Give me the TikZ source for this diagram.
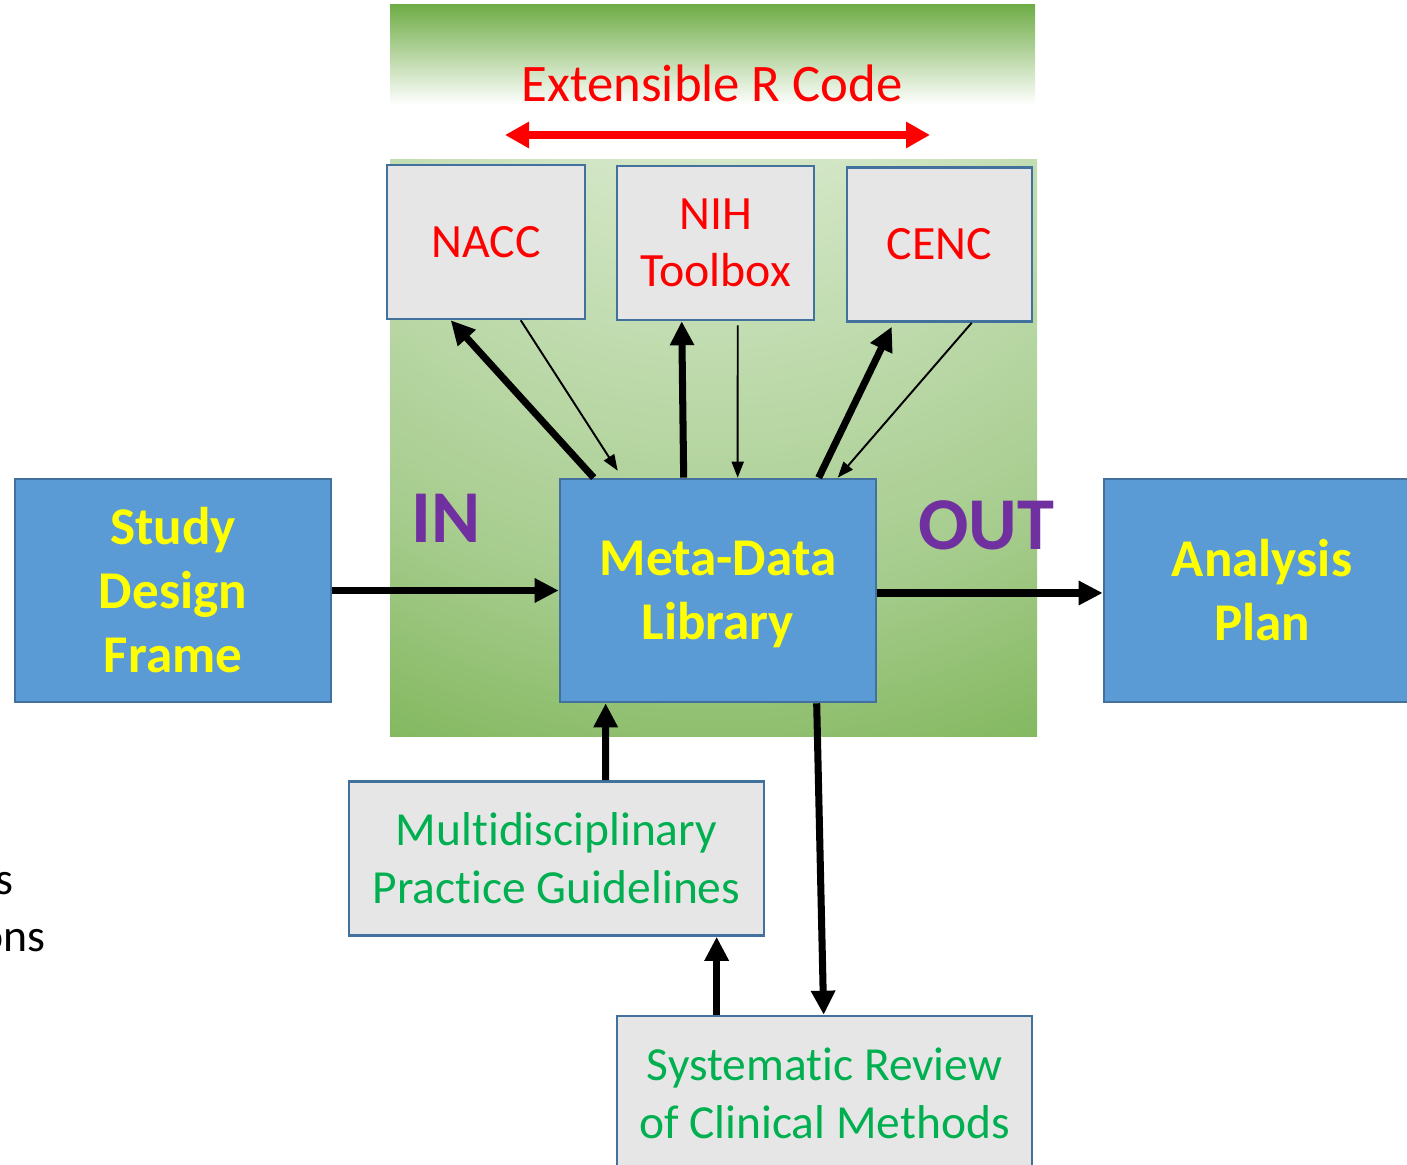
\documentclass[tikz,border=0pt]{standalone}
\usepackage{fontspec}
\setmainfont{Carlito}[Ligatures=NoCommon]
\usetikzlibrary{arrows.meta,calc}

\definecolor{bggreen}{HTML}{70AD47}
\definecolor{boxblue}{HTML}{5B9BD5}
\definecolor{boxedge}{HTML}{41719C}
\definecolor{boxgray}{HTML}{E7E6E6}
\definecolor{lblyellow}{HTML}{FFFF00}
\definecolor{lblred}{HTML}{FF0000}
\definecolor{lblgreen}{HTML}{00B050}
\definecolor{lblpurple}{HTML}{7030A0}
\definecolor{glowA}{HTML}{EFF6EB}
\definecolor{glowB}{HTML}{D0E5C3}
\definecolor{glowC}{HTML}{A6CC8D}
\definecolor{glowD}{HTML}{8ABC68}
\definecolor{glowE}{HTML}{6EAB46}

\pgfdeclareradialshading{libglow}{\pgfpoint{0bp}{50bp}}{color(0bp)=(glowA); color(20bp)=(glowB); color(44bp)=(glowC); color(54bp)=(glowD); color(64bp)=(glowE); color(115bp)=(glowE)}

\tikzset{
  srcbox/.style={draw=boxedge, line width=0.7pt, fill=boxgray, inner sep=0pt,
    minimum height=1.54cm, align=center, text=lblred,
    font=\fontsize{13.6pt}{16.2pt}\selectfont},
  mainbox/.style={draw=boxedge, line width=0.7pt, fill=boxblue, inner sep=0pt,
    minimum width=3.16cm, minimum height=2.23cm, align=center, text=lblyellow,
    font=\fontsize{15.1pt}{18.2pt}\selectfont\bfseries},
  refbox/.style={draw=boxedge, line width=0.7pt, fill=boxgray, inner sep=0pt,
    minimum width=4.15cm, minimum height=1.54cm, align=center, text=lblgreen,
    font=\fontsize{13.5pt}{16.4pt}\selectfont},
  flowlbl/.style={text=lblpurple, inner sep=0pt, font=\fontsize{21.2pt}{24pt}\selectfont\bfseries},
  bigarrow/.style={line width=2pt, -{Triangle[length=0.24cm,width=0.23cm]}},
  thinarrow/.style={line width=0.55pt, -{Triangle[length=0.16cm,width=0.12cm]}},
  codearrow/.style={draw=lblred, line width=2.2pt,
    {Triangle[length=0.24cm,width=0.25cm]}-{Triangle[length=0.24cm,width=0.25cm]}}
}

\begin{document}
\begin{tikzpicture}[x=0.01cm,y=-0.01cm]
    \useasboundingbox (0,0) rectangle (1407,1165);
    \clip (0,0) rectangle (1407,1165);
    \fill[white] (0,0) rectangle (1407,1165);

    % backdrop
    \shade[top color=bggreen,bottom color=white] (390,5) rectangle (1035,105);
    \shade[shading=libglow] (390,160) rectangle (1037,737);

    \node[text=lblred, inner sep=0pt, font=\fontsize{15pt}{17pt}\selectfont] (rcode) at (712,83) {Extensible R Code};
    \coordinate (codeW) at (505,135);
    \coordinate (codeE) at (930,135);

    \node[srcbox, minimum width=1.98cm] (nacc) at (486,242) {NACC};
    \node[srcbox, minimum width=1.97cm] (nih) at (715.5,243) {NIH\\Toolbox};
    \node[srcbox, minimum width=1.85cm] (cenc) at (939.5,244.5) {CENC};

    \node[mainbox] (study) at (173,590.5) {Study\\Design\\Frame};
    \node[mainbox, text depth=0pt] (meta) at (718,590.5) {Meta-Data\\Library};
    \node[mainbox] (plan) at (1262,590.5) {Analysis\\Plan};

    \node[flowlbl] (in) at (446,518) {IN};
    \node[flowlbl] (out) at (986,525) {OUT};

    \node[refbox] (guide) at (556.5,858.5) {Multidisciplinary\\Practice Guidelines};
    \node[refbox] (review) at (824.5,1093) {Systematic Review\\of Clinical Methods};

    \node[anchor=base east, inner sep=0pt, font=\fontsize{13pt}{15pt}\selectfont] (cutA) at (14,894) {s};
    \node[anchor=base east, inner sep=0pt, font=\fontsize{13pt}{15pt}\selectfont] (cutB) at (46,951) {ons};

    \draw[codearrow] (codeW) -- (codeE);

    \draw[bigarrow] ($(meta.north west)+(35,0)$) -- ($(nacc.south west)+(65,0)$);
    \draw[thinarrow] ($(nacc.south west)+(135,0)$) -- ($(meta.north west)+(59,-7)$);
    \draw[bigarrow] ($(meta.north west)+(125,0)$) -- ($(nih.south west)+(66,0)$);
    \draw[thinarrow] ($(nih.south west)+(122,4)$) -- ($(meta.north west)+(179,0)$);
    \draw[bigarrow] ($(meta.north west)+(260,0)$) -- ($(cenc.south west)+(46,4)$);
    \draw[thinarrow] ($(cenc.south west)+(126,0)$) -- ($(meta.north west)+(279,0)$);

    \draw[bigarrow] (study) -- (meta);
    \draw[bigarrow] ($(meta.east)+(0,2.5)$) -- ($(plan.west)+(0,2.5)$);
    \draw[bigarrow] ($(guide.north west)+(258,0)$) -- ($(meta.south west)+(47,0)$);
    \draw[bigarrow] ($(review.north west)+(101,0)$) -- ($(guide.south west)+(369,0)$);
    \draw[bigarrow] ($(meta.south west)+(258,0)$) -- ($(review.north west)+(208,0)$);
\end{tikzpicture}
\end{document}
